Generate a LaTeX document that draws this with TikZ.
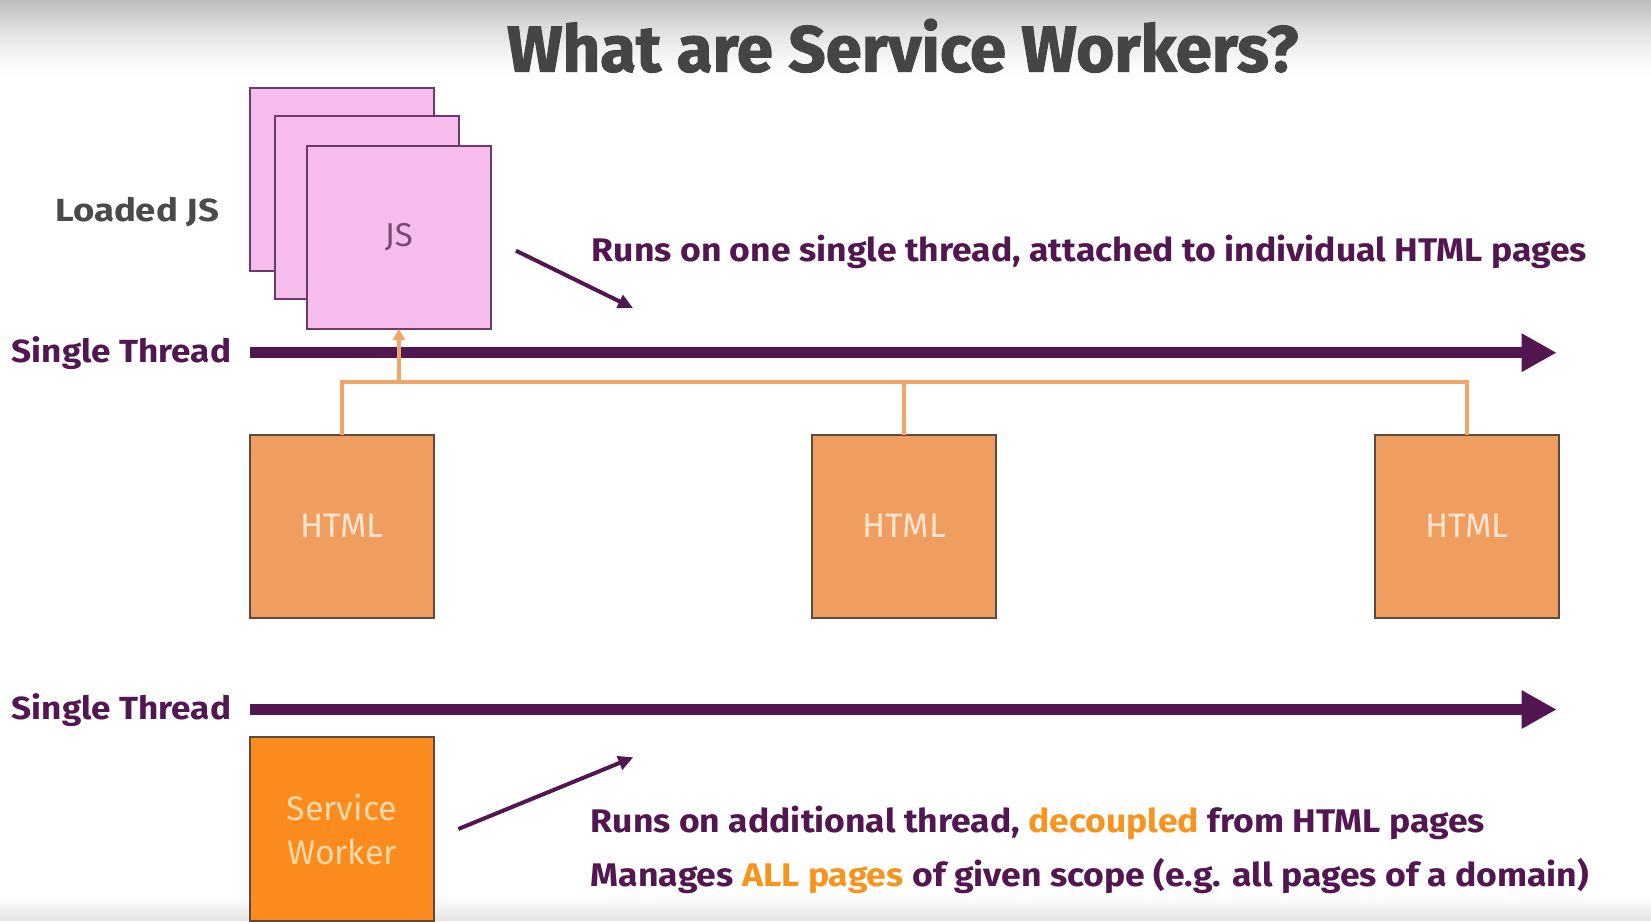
\documentclass[tikz,border=0pt]{standalone}
\usepackage{fontspec}
\usepackage{graphicx}
\setmainfont{Fira Sans}
\newfontfamily\heavyfont[BoldFeatures={FakeBold=1.6}]{Fira Sans}
\usetikzlibrary{arrows.meta}

\definecolor{plum}{HTML}{521650}
\definecolor{titlegray}{HTML}{454545}
\definecolor{labelgray}{HTML}{4A4A4A}
\definecolor{jspink}{HTML}{F6BCEC}
\definecolor{jsedge}{HTML}{6E3A68}
\definecolor{jstext}{HTML}{7A4A73}
\definecolor{htmlfill}{HTML}{F09E5F}
\definecolor{htmledge}{HTML}{5C4A40}
\definecolor{htmltext}{HTML}{FCE4CF}
\definecolor{swfill}{HTML}{FB8B1D}
\definecolor{swtext}{HTML}{FDD8A8}
\definecolor{wirecol}{HTML}{F2A56B}
\definecolor{accent}{HTML}{F7941E}

% scale a text horizontally so that it spans the given width (pt)
\newsavebox\fitbox
\newcommand\fitto[2]{\sbox\fitbox{#2}\pgfmathsetmacro\fitratio{#1/\wd\fitbox}\scalebox{\fitratio}[1]{\usebox\fitbox}}

\tikzset{
  sheet/.style={draw=jsedge, fill=jspink, line width=2pt, minimum width=184pt,
    minimum height=183pt, inner sep=0pt, outer sep=0pt},
  pagebox/.style={draw=htmledge, fill=htmlfill, line width=2pt, minimum width=184pt,
    minimum height=183pt, inner sep=0pt, outer sep=0pt, text=htmltext,
    font=\fontsize{34}{40}\selectfont},
  workerbox/.style={draw=htmledge, fill=swfill, line width=2pt, minimum width=184pt,
    minimum height=184pt, inner sep=0pt, outer sep=0pt, text=swtext, align=center,
    font=\fontsize{34}{43.4}\selectfont},
  thread/.style={draw=plum, line width=11.5pt, -{Triangle[length=35pt,width=36pt]}},
  pointer/.style={draw=plum, line width=4pt, -{Triangle[length=15pt,width=14pt]}},
  wire/.style={draw=wirecol, line width=4pt},
  wirearrow/.style={wire, -{Triangle[length=11pt,width=12pt]}},
  note/.style={anchor=base west, inner sep=0pt, text=plum,
    font=\fontsize{32.7}{36}\selectfont\bfseries},
  sidelabel/.style={anchor=base west, inner sep=0pt,
    font=\fontsize{32}{36}\selectfont\bfseries},
}

\begin{document}
\begin{tikzpicture}[x=1pt, y=-1pt]
  \useasboundingbox (0,0) rectangle (1651,921);
  \fill[white] (0,0) rectangle (1651,921);
  % soft grey fade along the top edge, built from thin strips
  \foreach \i in {0,...,39} {
    \pgfmathsetmacro\shadeamt{26*(1-\i/40)^1.6}
    \fill[black!\shadeamt] (0,\i*2) rectangle (1651,\i*2+2.2);
  }
  % and along the bottom edge
  \foreach \i in {0,...,12} {
    \pgfmathsetmacro\shadeamt{11*(\i/13)}
    \fill[black!\shadeamt] (0,895+\i*2) rectangle (1651,897.2+\i*2);
  }

  % title
  \node[anchor=base west, inner sep=0pt, text=titlegray,
        font=\fontsize{65}{70}\selectfont\heavyfont\bfseries] (title) at (507,71.6)
        {\fitto{791}{What are Service Workers?}};

  % stack of loaded scripts
  \node[sheet] (js1) at (341.7,179.7) {};
  \node[sheet] (js2) at (367.2,207) {};
  \node[sheet, text=jstext, font=\fontsize{33}{38}\selectfont] (js3) at (398.9,237.5) {JS};
  \node[sidelabel, text=labelgray] (loaded) at (55,221) {\fitto{164}{Loaded JS}};

  % first thread
  \node[sidelabel, text=plum] (st1) at (11.7,362.5) {\fitto{219.3}{Single Thread}};
  \coordinate (t1s) at (250,352.7);
  \coordinate (t1e) at (1556.7,352.7);
  \draw[thread] (t1s) -- (t1e);

  % HTML pages
  \node[pagebox] (html1) at (341.7,526) {HTML};
  \node[pagebox] (html2) at (904.2,526) {HTML};
  \node[pagebox] (html3) at (1467,526) {HTML};

  % wiring from the pages to the script
  \coordinate (bus) at (0,381.7);
  \draw[wire] (html1.north) -- (html1.north |- bus) -- (html3.north |- bus) -- (html3.north);
  \draw[wire] (html2.north) -- (html2.north |- bus);
  \draw[wirearrow] (js3.south |- bus) -- (js3.south);

  % note on the first thread
  \coordinate (p1s) at (516,250.7);
  \coordinate (p1e) at (633,308);
  \draw[pointer] (p1s) -- (p1e);
  \node[note] (n1) at (591.7,261)
    {\fitto{995}{Runs on one single thread, attached to individual HTML pages}};

  % second thread
  \node[sidelabel, text=plum] (st2) at (11.7,719.3) {\fitto{219.3}{Single Thread}};
  \coordinate (t2s) at (250,709.5);
  \coordinate (t2e) at (1556.7,709.5);
  \draw[thread] (t2s) -- (t2e);

  % service worker
  \node[workerbox] (sw) at (342,829.3) {Service\\Worker};

  \coordinate (p2s) at (458.3,829);
  \coordinate (p2e) at (633.3,757.3);
  \draw[pointer] (p2s) -- (p2e);
  \node[note] (n2) at (590.7,832.7)
    {\fitto{894}{Runs on additional thread, \textcolor{accent}{decoupled} from HTML pages}};
  \node[note] (n3) at (590.7,886)
    {\fitto{998}{Manages \textcolor{accent}{ALL pages} of given scope (e.g. all pages of a domain)}};
\end{tikzpicture}
\end{document}
